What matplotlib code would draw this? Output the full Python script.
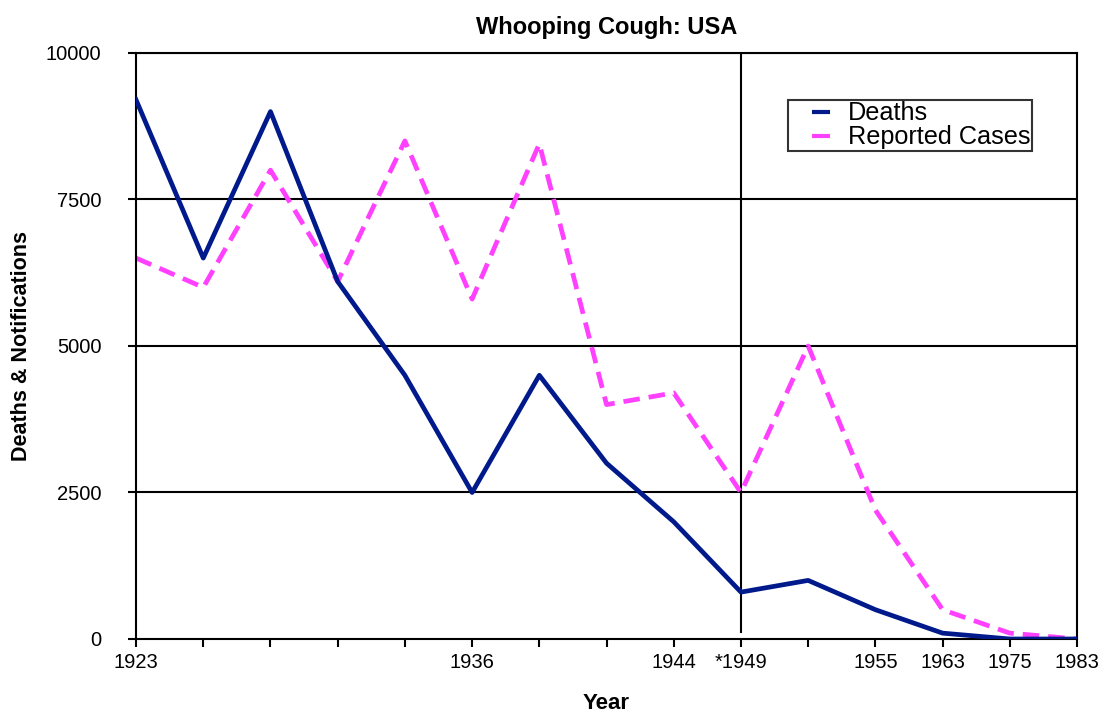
import matplotlib.pyplot as plt
from matplotlib.lines import Line2D

plt.rcParams['font.family'] = ['Liberation Sans', 'DejaVu Sans']

# yearly points shown on the chart, one per tick position
tick_labels = ['1923', '', '', '', '', '1936', '', '', '1944', '*1949', '', '1955', '1963', '1975', '1983']
deaths = [9200, 6500, 9000, 6100, 4500, 2500, 4500, 3000, 2000, 800, 1000, 500, 100, 0, 0]
reported = [6500, 6000, 8000, 6100, 8500, 5800, 8450, 4000, 4200, 2500, 5000, 2200, 500, 100, 0]
y_ticks = [0, 2500, 5000, 7500, 10000]

deaths_col = '#001a8c'
cases_col = '#ff40ff'

x = list(range(len(tick_labels)))

fig = plt.figure(figsize=(11.07, 7.15), dpi=100)
ax = fig.add_axes([0.1229, 0.1063, 0.85, 0.8196])

# horizontal grid lines and the 1949 marker line
for yv in y_ticks[1:]:
    ax.axhline(yv, color='black', lw=1.5, zorder=1)
ax.axvline(9, ymin=0.012, ymax=1, color='black', lw=1.5, zorder=1)

ax.plot(x, deaths, color=deaths_col, lw=3.4, zorder=3)
ax.plot(x, reported, color=cases_col, lw=3.4, dashes=(3.5, 1.9), zorder=2)

ax.set_xlim(0, 14)
ax.set_ylim(0, 10000)
ax.set_xticks(x)
ax.set_xticklabels(tick_labels, fontsize=14.5)
ax.set_yticks(y_ticks)
ax.set_yticklabels([str(v) for v in y_ticks], fontsize=14.5)
ax.tick_params(direction='out', length=6, width=1.5)
ax.tick_params(axis='x', pad=4)
ax.tick_params(axis='y', pad=19)

for s in ax.spines.values():
    s.set_linewidth(1.5)

ax.set_title('Whooping Cough: USA', fontsize=17, fontweight='bold', pad=14)
ax.set_xlabel('Year', fontsize=16, fontweight='bold', labelpad=15)
ax.set_ylabel('Deaths & Notifications', fontsize=15.5, fontweight='bold', labelpad=10)

# short legend keys like the original
handles = [Line2D([], [], color=deaths_col, marker='_', ls='none', markersize=13, mew=3),
           Line2D([], [], color=cases_col, marker='_', ls='none', markersize=13, mew=3)]
leg = ax.legend(handles, ['Deaths', 'Reported Cases'], loc='upper left',
                bbox_to_anchor=(0.693, 0.92), fontsize=18.2,
                fancybox=False, frameon=True, edgecolor='black', handlelength=2.5,
                borderpad=0.06, labelspacing=0.0, handletextpad=-0.2, borderaxespad=0)
leg.get_frame().set_linewidth(1.5)

fig.savefig('out.png', dpi=100)
